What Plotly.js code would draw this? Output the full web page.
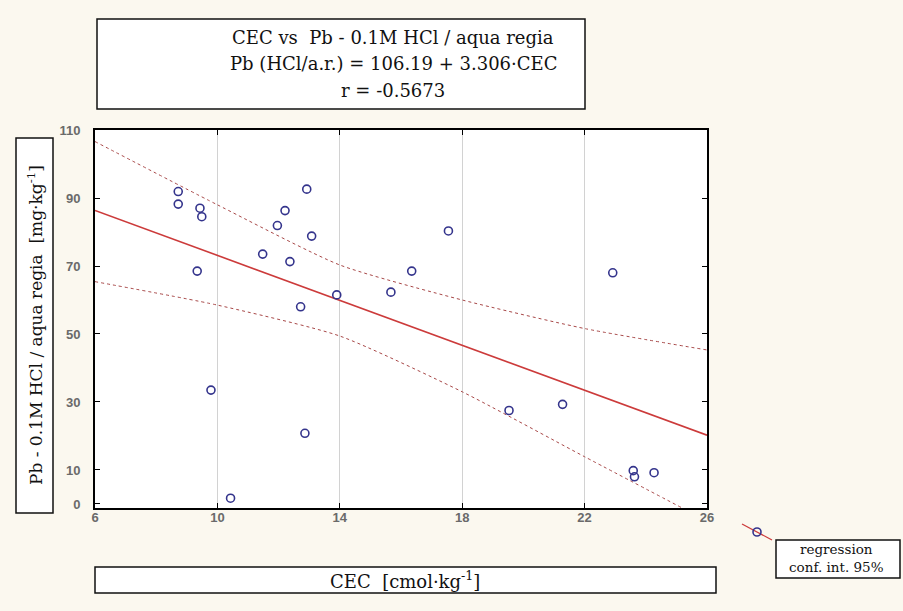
<!DOCTYPE html>
<html>
<head>
<meta charset="utf-8">
<script src="https://cdn.plot.ly/plotly-3.0.1.min.js"></script>
<style>html,body{margin:0;padding:0;background:#fbf8ef;}#chart{width:903px;height:611px;}</style>
</head>
<body>
<div id="chart"></div>
<script>
// ---- data ----
const cec = [8.72, 8.72, 9.43, 9.49, 12.92, 12.21, 11.96, 13.08, 11.48, 12.37, 9.34, 13.90, 12.72, 9.79, 12.86, 10.43, 17.55, 16.35, 15.67, 22.92, 19.53, 21.28, 23.59, 23.63, 24.27];
const pb = [91.9, 88.2, 87.0, 84.5, 92.6, 86.3, 81.9, 78.8, 73.5, 71.3, 68.5, 61.5, 58.0, 33.5, 20.8, 1.7, 80.3, 68.5, 62.3, 68.0, 27.5, 29.3, 9.8, 8.0, 9.2];
const regX = [6, 26];
const regY = [86.35, 20.23];
const bandX = [6, 10, 14, 18, 22, 26];
const bandUpper = [106.6, 88.0, 70.3, 60.0, 51.6, 45.3];
const bandLower = [65.4, 58.5, 49.4, 33.0, 13.9, -5.0];
const xTicks = [6, 10, 14, 18, 22, 26];
const yTicks = [0, 10, 30, 50, 70, 90, 110];
const yGrid = [10, 30, 50, 70, 90, 110];
const titleLines = ["CEC vs  Pb - 0.1M HCl / aqua regia", "Pb (HCl/a.r.) = 106.19 + 3.306·CEC", "r = -0.5673"];
const xLabel = "CEC  [cmol·kg<sup>-1</sup>]";
const yLabel = "Pb - 0.1M HCl / aqua regia  [mg·kg<sup>-1</sup>]";
const legendLines = ["regression", "conf. int. 95%"];

// ---- layout helpers (pixel -> paper) ----
const L = 95, R = 707, T = 130, B = 508;
const px = x => (x - L) / (R - L);
const py = y => (B - y) / (B - T);
const serif = "DejaVu Serif, Liberation Serif, serif";
const redLine = '#cc3b3b';
const bandCol = '#a84848';
const markCol = '#34348c';

const traces = [
  {x: bandX, y: bandUpper, mode: 'lines', line: {color: bandCol, width: 1, dash: 'dot', shape: 'spline', smoothing: 0.6}, hoverinfo: 'skip', showlegend: false},
  {x: bandX, y: bandLower, mode: 'lines', line: {color: bandCol, width: 1, dash: 'dot', shape: 'spline', smoothing: 0.6}, hoverinfo: 'skip', showlegend: false},
  {x: regX, y: regY, mode: 'lines', line: {color: redLine, width: 1.6}, showlegend: false},
  {x: cec, y: pb, mode: 'markers', marker: {symbol: 'circle-open', size: 8, color: markCol, line: {width: 1.6, color: markCol}}, showlegend: false}
];

const tickFont = {family: "Liberation Sans, Arial, sans-serif", size: 13, color: '#6a6a6a', weight: 'bold'};
const yRange = [-1.18, 110];

const titleY = [38, 64, 90];
const legendY = [549, 567];

const annotations = [
  {xref: 'paper', yref: 'paper', x: px(35), y: py(325), xanchor: 'center', yanchor: 'middle', showarrow: false, textangle: -90,
   text: yLabel, font: {family: serif, size: 17, color: '#111'}},
  {xref: 'paper', yref: 'paper', x: px(405), y: py(580), xanchor: 'center', yanchor: 'middle', showarrow: false,
   text: xLabel, font: {family: serif, size: 18, color: '#111'}}
];
titleLines.forEach((t, i) => annotations.push({xref: 'paper', yref: 'paper', x: px(393), y: py(titleY[i]), xanchor: 'center', yanchor: 'middle', showarrow: false,
  text: t, font: {family: serif, size: 18, color: '#111'}}));
legendLines.forEach((t, i) => annotations.push({xref: 'paper', yref: 'paper', x: px(836), y: py(legendY[i]), xanchor: 'center', yanchor: 'middle', showarrow: false,
  text: t, font: {family: serif, size: 13.5, color: '#111'}}));

const layout = {
  width: 903, height: 611,
  paper_bgcolor: '#fbf8ef', plot_bgcolor: '#ffffff',
  margin: {l: L, r: 903 - R, t: T, b: 611 - B, pad: 0},
  showlegend: false,
  xaxis: {
    range: [6, 26], tickvals: xTicks, ticktext: xTicks.map(String),
    ticks: 'inside', ticklen: 5, tickcolor: '#000', tickwidth: 1,
    showline: true, linecolor: '#000', linewidth: 2, mirror: 'ticks',
    showgrid: true, gridcolor: '#d2d2d2', gridwidth: 1, zeroline: false,
    tickfont: tickFont, ticklabelstandoff: -4
  },
  xaxis2: {
    overlaying: 'x', range: [6, 26], tickmode: 'linear', tick0: 6, dtick: 1, showticklabels: false,
    ticks: 'inside', ticklen: 3, tickcolor: '#000', tickwidth: 1,
    showline: true, linecolor: '#000', linewidth: 2, mirror: 'ticks', showgrid: false, zeroline: false
  },
  yaxis: {
    range: yRange, tickvals: yTicks, ticktext: yTicks.map(String),
    ticks: 'inside', ticklen: 5, tickcolor: '#000', tickwidth: 1,
    showline: true, linecolor: '#000', linewidth: 2, mirror: 'ticks',
    showgrid: false, zeroline: false,
    tickfont: tickFont, ticklabelstandoff: 10
  },
  yaxis2: {
    overlaying: 'y', range: yRange, tickvals: yGrid, showticklabels: false, ticks: '',
    showgrid: true, gridcolor: '#d2d2d2', gridwidth: 1, zeroline: false, showline: false
  },
  yaxis3: {
    overlaying: 'y', range: yRange, tickmode: 'linear', tick0: 10, dtick: 4, showticklabels: false,
    ticks: 'inside', ticklen: 3, tickcolor: '#000', tickwidth: 1,
    showline: true, linecolor: '#000', linewidth: 2, mirror: 'ticks', showgrid: false, zeroline: false
  },
  shapes: [
    {type: 'rect', xref: 'paper', yref: 'paper', x0: px(97), x1: px(585), y0: py(109), y1: py(19), fillcolor: '#fff', line: {color: '#111', width: 1.5}, layer: 'below'},
    {type: 'rect', xref: 'paper', yref: 'paper', x0: px(16), x1: px(53), y0: py(513), y1: py(138), fillcolor: '#fff', line: {color: '#111', width: 1.5}, layer: 'below'},
    {type: 'rect', xref: 'paper', yref: 'paper', x0: px(95), x1: px(716), y0: py(593), y1: py(567), fillcolor: '#fff', line: {color: '#111', width: 1.5}, layer: 'below'},
    {type: 'rect', xref: 'paper', yref: 'paper', x0: px(776), x1: px(900), y0: py(578), y1: py(540), fillcolor: '#fff', line: {color: '#111', width: 1.5}, layer: 'below'},
    {type: 'line', xref: 'paper', yref: 'paper', x0: px(742), y0: py(524), x1: px(772), y1: py(540), line: {color: redLine, width: 1.2}},
    {type: 'circle', xref: 'paper', yref: 'paper', x0: px(753), x1: px(761), y0: py(536), y1: py(528), line: {color: markCol, width: 1.6}}
  ],
  annotations: annotations
};

Plotly.newPlot('chart', traces, layout, {displayModeBar: false, staticPlot: true});
</script>
</body>
</html>
